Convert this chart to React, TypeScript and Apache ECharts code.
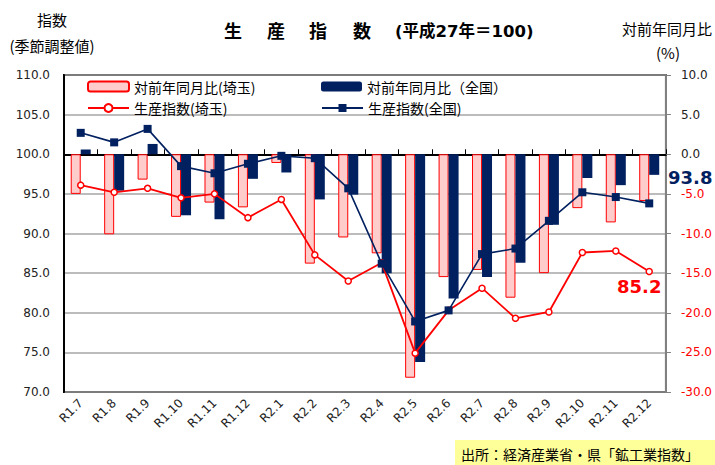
import React, { useEffect, useRef } from "react";
import * as echarts from "echarts";

const categories = ["R1.7", "R1.8", "R1.9", "R1.10", "R1.11", "R1.12", "R2.1", "R2.2", "R2.3", "R2.4", "R2.5", "R2.6", "R2.7", "R2.8", "R2.9", "R2.10", "R2.11", "R2.12"];
const saitamaYoY = [-5.0, -10.1, -3.2, -7.9, -6.1, -6.7, -1.1, -13.8, -10.5, -12.5, -28.2, -15.5, -14.6, -18.1, -15.0, -6.8, -8.6, -5.9];
const nationalYoY = [0.6, -4.6, 1.3, -7.7, -8.2, -3.1, -2.3, -5.7, -5.1, -15.0, -26.2, -18.2, -15.5, -13.7, -8.9, -3.0, -3.9, -2.6];
const saitamaIdx = [96.1, 95.2, 95.7, 94.5, 95.0, 92.0, 94.3, 87.3, 84.0, 86.3, 74.9, 80.3, 83.1, 79.3, 80.1, 87.6, 87.8, 85.2];
const nationalIdx = [102.7, 101.5, 103.2, 98.5, 97.6, 98.8, 99.8, 99.5, 95.7, 86.2, 78.9, 80.3, 87.4, 88.1, 91.6, 95.2, 94.6, 93.8];

const NUM_FONT = "'DejaVu Sans', Verdana, sans-serif";
const JP_FONT = "'Noto Sans CJK JP', sans-serif";
const MIX_FONT = "'DejaVu Sans', 'Noto Sans CJK JP', sans-serif";
const NAVY = "#002060";
const RED = "#ff0000";

export default function App() {
  const ref = useRef<HTMLDivElement>(null);
  useEffect(() => {
    if (!ref.current) return;
    const chart = echarts.init(ref.current, null, { renderer: "svg" });
    const legendBase = {
      orient: "horizontal",
      padding: 0,
      itemWidth: 41,
      itemHeight: 10,
      textStyle: { fontSize: 14, fontFamily: JP_FONT, color: "#000" },
      selectedMode: false,
    };
    chart.setOption({
      animation: false,
      backgroundColor: "#fff",
      grid: {
        left: 64,
        right: 49,
        top: 75,
        bottom: 73,
        show: true,
        borderColor: "#000",
        borderWidth: 2,
      },
      legend: [
        { ...legendBase, data: ["対前年同月比(埼玉)"], left: 87, top: 79.5 },
        { ...legendBase, data: ["対前年同月比（全国）"], left: 321, top: 79.5 },
        { ...legendBase, data: ["生産指数(埼玉)"], left: 87, top: 101 },
        { ...legendBase, data: ["生産指数(全国)"], left: 321, top: 101 },
      ],
      xAxis: {
        type: "category",
        data: categories,
        boundaryGap: true,
        axisLine: { lineStyle: { color: "#000", width: 2 } },
        axisTick: { show: true, inside: true, length: 5, interval: 0, lineStyle: { color: "#000", width: 1 } },
        axisLabel: { rotate: 45, interval: 0, fontSize: 12, fontFamily: NUM_FONT, color: "#222", margin: 9 },
      },
      yAxis: [
        {
          type: "value",
          min: 70,
          max: 110,
          interval: 5,
          position: "left",
          axisLine: { show: true, lineStyle: { color: "#000", width: 2 } },
          axisTick: { show: false },
          axisLabel: {
            fontSize: 12,
            fontFamily: NUM_FONT,
            color: "#222",
            margin: 14,
            formatter: (v: number) => v.toFixed(1),
          },
          splitLine: { show: true, lineStyle: { color: "#a6a6a6", width: 1.5 } },
        },
        {
          type: "value",
          min: -30,
          max: 10,
          interval: 5,
          position: "right",
          axisLine: { show: true, lineStyle: { color: "#808080", width: 2 } },
          axisTick: { show: true, inside: false, length: 5, lineStyle: { color: "#808080", width: 1 } },
          axisLabel: {
            fontSize: 12,
            fontFamily: NUM_FONT,
            margin: 15,
            formatter: (v: number) => (v < 0 ? `{r|${v.toFixed(1)}}` : `{b|${v.toFixed(1)}}`),
            rich: {
              r: { color: RED, fontSize: 12, fontFamily: NUM_FONT },
              b: { color: "#222", fontSize: 12, fontFamily: NUM_FONT },
            },
          },
          splitLine: { show: false },
        },
      ],
      series: [
        {
          name: "対前年同月比(埼玉)",
          type: "bar",
          yAxisIndex: 1,
          data: saitamaYoY,
          barWidth: 10,
          barGap: "0%",
          itemStyle: { color: "#ffcccc", borderColor: RED, borderWidth: 1 },
          z: 2,
        },
        {
          name: "対前年同月比（全国）",
          type: "bar",
          yAxisIndex: 1,
          data: nationalYoY,
          barWidth: 10,
          barGap: "0%",
          itemStyle: { color: NAVY },
          z: 2,
        },
        {
          name: "生産指数(埼玉)",
          type: "line",
          yAxisIndex: 0,
          data: saitamaIdx,
          symbol: "circle",
          symbolSize: 6,
          lineStyle: { color: RED, width: 1.8 },
          itemStyle: { color: "#fff", borderColor: RED, borderWidth: 1.5 },
          z: 4,
        },
        {
          name: "生産指数(全国)",
          type: "line",
          yAxisIndex: 0,
          data: nationalIdx,
          symbol: "rect",
          symbolSize: 8,
          lineStyle: { color: NAVY, width: 1.6 },
          itemStyle: { color: NAVY },
          z: 5,
        },
      ],
      graphic: [
        { type: "text", x: 52, y: 19, style: { text: "指数", fontSize: 15, fontFamily: JP_FONT, fill: "#000", textAlign: "center", textVerticalAlign: "middle" } },
        { type: "text", x: 52, y: 45, style: { text: "(季節調整値)", fontSize: 15, fontFamily: JP_FONT, fill: "#000", textAlign: "center", textVerticalAlign: "middle" } },
        { type: "text", x: 233, y: 30, style: { text: "生", fontSize: 18, fontWeight: "bold", fontFamily: JP_FONT, fill: "#000", textAlign: "center", textVerticalAlign: "middle" } },
        { type: "text", x: 276, y: 30, style: { text: "産", fontSize: 18, fontWeight: "bold", fontFamily: JP_FONT, fill: "#000", textAlign: "center", textVerticalAlign: "middle" } },
        { type: "text", x: 318, y: 30, style: { text: "指", fontSize: 18, fontWeight: "bold", fontFamily: JP_FONT, fill: "#000", textAlign: "center", textVerticalAlign: "middle" } },
        { type: "text", x: 362, y: 30, style: { text: "数", fontSize: 18, fontWeight: "bold", fontFamily: JP_FONT, fill: "#000", textAlign: "center", textVerticalAlign: "middle" } },
        { type: "text", x: 395, y: 31, style: { text: "(平成27年＝100)", fontSize: 16.5, fontWeight: "bold", fontFamily: MIX_FONT, fill: "#000", textAlign: "left", textVerticalAlign: "middle" } },
        { type: "text", x: 667, y: 28, style: { text: "対前年同月比", fontSize: 15, fontFamily: JP_FONT, fill: "#000", textAlign: "center", textVerticalAlign: "middle" } },
        { type: "text", x: 668, y: 52, style: { text: "(%)", fontSize: 15, fontFamily: JP_FONT, fill: "#000", textAlign: "center", textVerticalAlign: "middle" } },
        { type: "text", x: 668, y: 177, style: { text: "93.8", fontSize: 18, fontWeight: "bold", fontFamily: NUM_FONT, fill: NAVY, textAlign: "left", textVerticalAlign: "middle" } },
        { type: "text", x: 617, y: 286, style: { text: "85.2", fontSize: 18, fontWeight: "bold", fontFamily: NUM_FONT, fill: RED, textAlign: "left", textVerticalAlign: "middle" } },
        { type: "rect", shape: { x: 455, y: 440, width: 260, height: 25 }, style: { fill: "#ffff99" } },
        { type: "text", x: 461, y: 454, style: { text: "出所：経済産業省・県「鉱工業指数」", fontSize: 14, fontFamily: JP_FONT, fill: "#000", textAlign: "left", textVerticalAlign: "middle" } },
      ],
    });
    return () => chart.dispose();
  }, []);
  return <div ref={ref} style={{ position: "fixed", left: 0, top: 0, width: 715, height: 465 }} />;
}
